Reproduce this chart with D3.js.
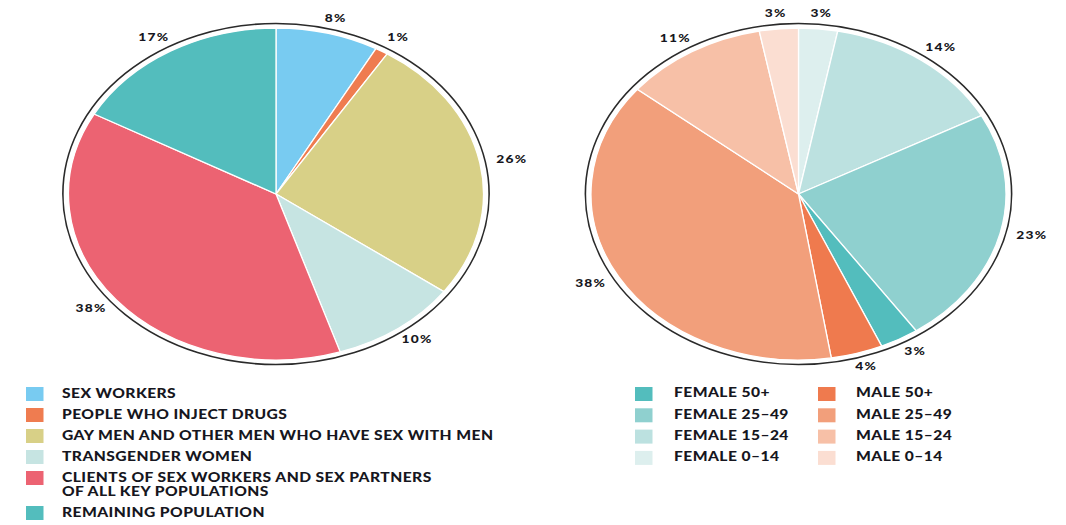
<!DOCTYPE html>
<html>
<head>
<meta charset="utf-8">
<script src="https://cdn.jsdelivr.net/npm/d3@7"></script>
<style>
  body { margin: 0; background: #fff; }
  svg { display: block; }
  text { font-family: Lato, "Open Sans", sans-serif; font-weight: 900; fill: #161620; }
</style>
</head>
<body>
<svg width="1066" height="525"></svg>
<script>
// left pie: key populations
var leftCats = ["SEX WORKERS", "PEOPLE WHO INJECT DRUGS", "GAY MEN AND OTHER MEN WHO HAVE SEX WITH MEN",
    "TRANSGENDER WOMEN", "CLIENTS OF SEX WORKERS AND SEX PARTNERS|OF ALL KEY POPULATIONS", "REMAINING POPULATION"];
var leftValues = [8, 1, 26, 10, 38, 17];
var leftColors = ["#78cbf1", "#ef7c50", "#d8d087", "#c6e4e2", "#ec6372", "#53bdbd"];

// right pie: sex and age
var rightCats = ["FEMALE 0–14", "FEMALE 15–24", "FEMALE 25–49", "FEMALE 50+",
    "MALE 50+", "MALE 25–49", "MALE 15–24", "MALE 0–14"];
var rightValues = [3, 14, 23, 3, 4, 38, 11, 3];
var rightColors = ["#ddefee", "#bce1e0", "#8fd0cf", "#53bdbd", "#ef7a4e", "#f29f7b", "#f7c0a7", "#fbded2"];
// legend columns (indexes into rightCats)
var rightLegendCols = [[3, 2, 1, 0], [4, 5, 6, 7]];

var svg = d3.select("svg");
// the whole graphic is stretched sideways in the original
var sx = 1.25;
var g = svg.append("g").attr("transform", "scale(" + sx + ",1)");

var R = 166;
var pie = d3.pie().sort(null).value(function(d) { return d; });
var arc = d3.arc().innerRadius(0).outerRadius(R);

function drawPie(cx, cy, values, colors) {
    var pg = g.append("g").attr("transform", "translate(" + cx + "," + cy + ")");

    pg.append("circle")
        .attr("r", R + 4.5)
        .attr("fill", "none")
        .attr("stroke", "#2a2a2a")
        .attr("stroke-width", 1.6)
        .attr("vector-effect", "non-scaling-stroke");

    var arcs = pie(values);
    pg.selectAll("path")
        .data(arcs)
        .enter()
        .append("path")
        .attr("d", arc)
        .attr("fill", function(d, i) { return colors[i]; })
        .attr("stroke", "#fff")
        .attr("stroke-width", 1.3)
        .attr("vector-effect", "non-scaling-stroke");

    pg.selectAll(".lbl")
        .data(arcs)
        .enter()
        .append("text")
        .attr("class", "lbl")
        .attr("x", function(d) { return Math.sin((d.startAngle + d.endAngle) / 2) * (R + 26); })
        .attr("y", function(d) { return -Math.cos((d.startAngle + d.endAngle) / 2) * (R + 15); })
        .attr("text-anchor", "middle")
        .attr("dominant-baseline", "middle")
        .style("font-size", "11px")
        .style("letter-spacing", "1px")
        .text(function(d) { return d.value + "%"; });
}

drawPie(276 / sx, 194, leftValues, leftColors);
drawPie(798.5 / sx, 194, rightValues, rightColors);

// left legend
var lineH = 14;
var rowY = [];
var y0 = 394;
leftCats.forEach(function(c, i) {
    rowY.push(y0);
    y0 += 21 + (c.split("|").length - 1) * lineH;
});

var leftLeg = g.append("g");
var lItem = leftLeg.selectAll(".li")
    .data(leftCats)
    .enter()
    .append("g")
    .attr("class", "li")
    .attr("transform", function(d, i) { return "translate(0," + rowY[i] + ")"; });

lItem.append("rect")
    .attr("x", 26 / sx)
    .attr("y", -7)
    .attr("width", 14)
    .attr("height", 14)
    .attr("fill", function(d, i) { return leftColors[i]; });

lItem.append("text")
    .attr("x", 62 / sx)
    .attr("dominant-baseline", "middle")
    .style("font-size", "12.5px")
    .style("letter-spacing", "0.35px")
    .selectAll("tspan")
    .data(function(d) { return d.split("|"); })
    .enter()
    .append("tspan")
    .attr("x", 62 / sx)
    .attr("dy", function(d, i) { return i == 0 ? 0 : lineH; })
    .text(function(d) { return d; });

// right legend
var colX = [[635, 674], [818, 856]];
rightLegendCols.forEach(function(col, c) {
    var items = g.append("g").selectAll(".ri")
        .data(col)
        .enter()
        .append("g")
        .attr("transform", function(d, i) { return "translate(0," + (394 + i * 21.3) + ")"; });

    items.append("rect")
        .attr("x", colX[c][0] / sx)
        .attr("y", -7)
        .attr("width", 14)
        .attr("height", 14)
        .attr("fill", function(d) { return rightColors[d]; });

    items.append("text")
        .attr("x", colX[c][1] / sx)
        .attr("dominant-baseline", "middle")
        .style("font-size", "12.5px")
        .style("letter-spacing", "0.35px")
        .text(function(d) { return rightCats[d]; });
});
</script>
</body>
</html>
